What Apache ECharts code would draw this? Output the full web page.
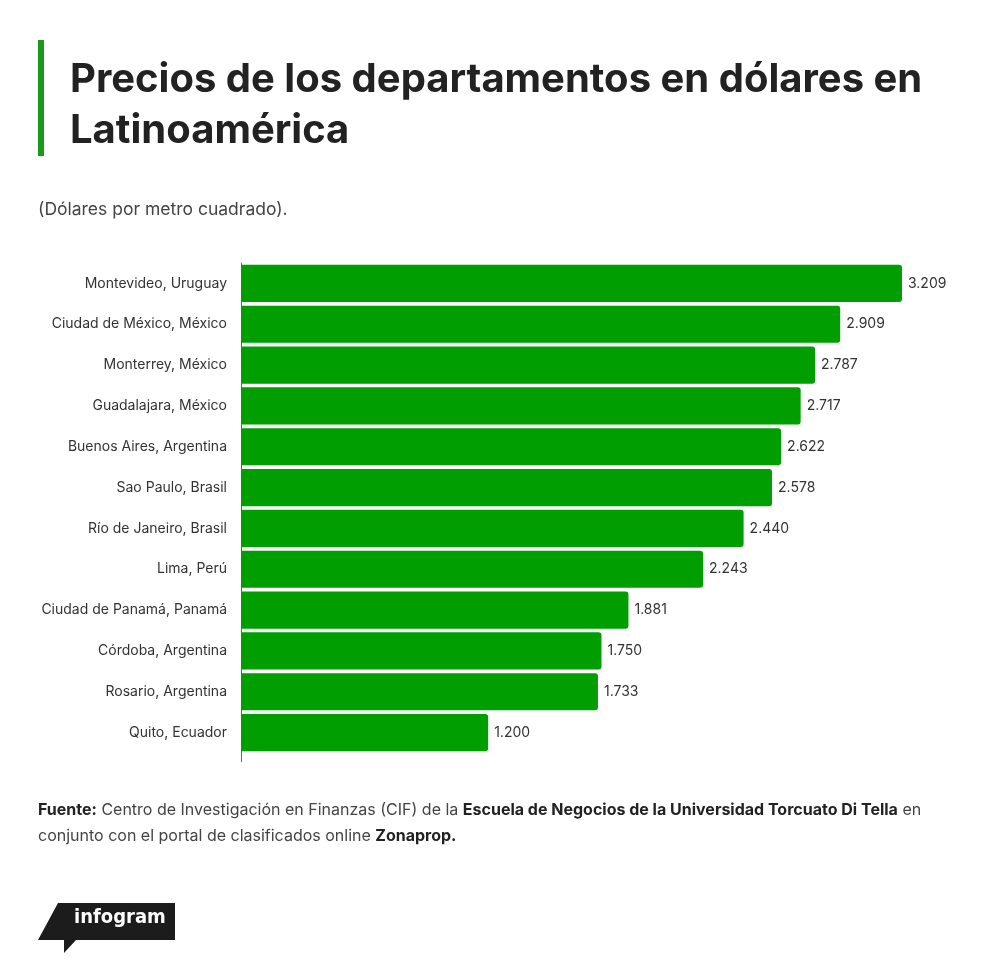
<!DOCTYPE html>
<html>
<head>
<meta charset="utf-8">
<script src="https://cdn.jsdelivr.net/npm/echarts@6/dist/echarts.min.js"></script>
<style>
  html, body { margin: 0; padding: 0; background: #fff; }
  #main { width: 1000px; height: 972px; }
</style>
</head>
<body>
<div id="main"></div>
<script>
var cities = [
    'Montevideo, Uruguay', 'Ciudad de México, México', 'Monterrey, México',
    'Guadalajara, México', 'Buenos Aires, Argentina', 'Sao Paulo, Brasil',
    'Río de Janeiro, Brasil', 'Lima, Perú', 'Ciudad de Panamá, Panamá',
    'Córdoba, Argentina', 'Rosario, Argentina', 'Quito, Ecuador'
];
var prices = [3209, 2909, 2787, 2717, 2622, 2578, 2440, 2243, 1881, 1750, 1733, 1200];

var font = 'Inter, "Noto Sans", sans-serif';

// 基于准备好的dom，初始化echarts实例
var myChart = echarts.init(document.getElementById('main'));

var option = {
    backgroundColor: '#ffffff',
    textStyle: { fontFamily: font },
    grid: { left: 241, right: 98, top: 263, bottom: 219, containLabel: false },
    xAxis: {
        type: 'value',
        min: 0,
        max: 'dataMax',
        show: false
    },
    yAxis: {
        type: 'category',
        data: cities,
        inverse: true,
        axisLine: { show: true, lineStyle: { color: '#666', width: 1 } },
        axisTick: { show: false },
        axisLabel: { color: '#333', fontSize: 14, margin: 14, fontFamily: font }
    },
    series: [{
        type: 'bar',
        data: prices,
        barCategoryGap: '9%',
        itemStyle: { color: '#009e00', borderRadius: [0, 3, 3, 0] },
        label: {
            show: true,
            position: 'right',
            distance: 6,
            color: '#333',
            fontSize: 14,
            fontFamily: font,
            formatter: function (p) {
                return String(p.value).replace(/(\d)(\d{3})$/, '$1.$2');
            }
        },
        silent: true
    }],
    graphic: [
        { type: 'rect', shape: { x: 38, y: 40, width: 6, height: 116 }, style: { fill: '#1a9a1a' } },
        // eje vertical extendido por debajo de la última barra
        { type: 'line', shape: { x1: 241.5, y1: 753, x2: 241.5, y2: 762 }, style: { stroke: '#666', lineWidth: 1 } },
        {
            type: 'text', left: 70, top: 54,
            style: {
                text: 'Precios de los departamentos en dólares en\nLatinoamérica',
                font: 'bold 40px ' + font, fill: '#222', lineHeight: 51
            }
        },
        {
            type: 'text', left: 38, top: 201,
            style: { text: '(Dólares por metro cuadrado).', font: '17.5px ' + font, fill: '#444' }
        },
        {
            type: 'text', left: 38, top: 797,
            style: {
                text: '{b|Fuente:} Centro de Investigación en Finanzas (CIF) de la {b|Escuela de Negocios de la Universidad Torcuato Di Tella} en\nconjunto con el portal de clasificados online {b|Zonaprop.}',
                font: '16px ' + font, fill: '#444', lineHeight: 26,
                rich: {
                    b: { fontWeight: 'bold', fill: '#222', fontSize: 16, fontFamily: font }
                }
            }
        },
        {
            type: 'polygon',
            shape: { points: [[58, 903], [175, 903], [175, 940], [76, 940], [64, 953], [64, 940], [38, 940]] },
            style: { fill: '#1c1c1c' }
        },
        {
            type: 'text', left: 74, top: 908,
            style: { text: 'infogram', font: 'bold 20px "Liberation Sans Narrow", "DejaVu Sans Condensed", sans-serif', fill: '#fff' }
        }
    ]
};

// 使用刚指定的配置项和数据显示图表。
myChart.setOption(option);
</script>
</body>
</html>
